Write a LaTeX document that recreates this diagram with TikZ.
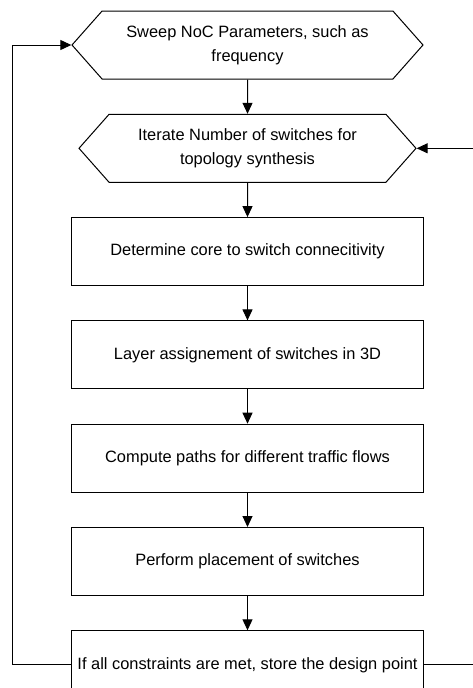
\documentclass[tikz,border=0pt]{standalone}
\usepackage{fontspec}
\setmainfont{Liberation Sans}
\usepackage{tikz}
\usetikzlibrary{shapes.symbols, arrows.meta, positioning}
\tikzset{
  loopbox/.style={signal, signal to=west and east, signal pointer angle=97,
                  draw=black, line width=1pt, minimum height=68pt,
                  align=center, inner sep=2pt, font=\fontsize{16.4}{24}\selectfont},
  procbox/.style={rectangle, draw=black, line width=1pt,
                  minimum width=352pt, minimum height=68pt,
                  align=center, inner sep=2pt, font=\fontsize{16.4}{24}\selectfont},
  link/.style={-{Triangle[length=11pt,width=10pt]}, line width=1pt, draw=black},
}

\begin{document}
\begin{tikzpicture}[node distance=34.3pt]
  \useasboundingbox (0,0) rectangle (473pt,-688pt);
  \clip (0,0) rectangle (473pt,-688pt);

  \node[loopbox, minimum width=351pt] (sweep) at (247.5pt,-45pt)
        {Sweep NoC Parameters, such as\\frequency};
  \node[loopbox, minimum width=337pt, below=of sweep]
        (iter) {Iterate Number of switches for\\topology synthesis};
  \node[procbox, below=of iter] (conn) {Determine core to switch connecitivity};
  \node[procbox, below=of conn] (layer) {Layer assignement of switches in 3D};
  \node[procbox, below=of layer] (paths) {Compute paths for different traffic flows};
  \node[procbox, below=of paths] (place) {Perform placement of switches};
  \node[procbox, below=of place] (store) {If all constraints are met, store the design point};

  \draw[link] (sweep) -- (iter);
  \draw[link] (iter) -- (conn);
  \draw[link] (conn) -- (layer);
  \draw[link] (layer) -- (paths);
  \draw[link] (paths) -- (place);
  \draw[link] (place) -- (store);
  \draw[link] (store.west) -- ++(-59pt,0) |- (sweep.west);
  \draw[link] (store.east) -- ++(52pt,0) |- (iter.east);
\end{tikzpicture}
\end{document}
